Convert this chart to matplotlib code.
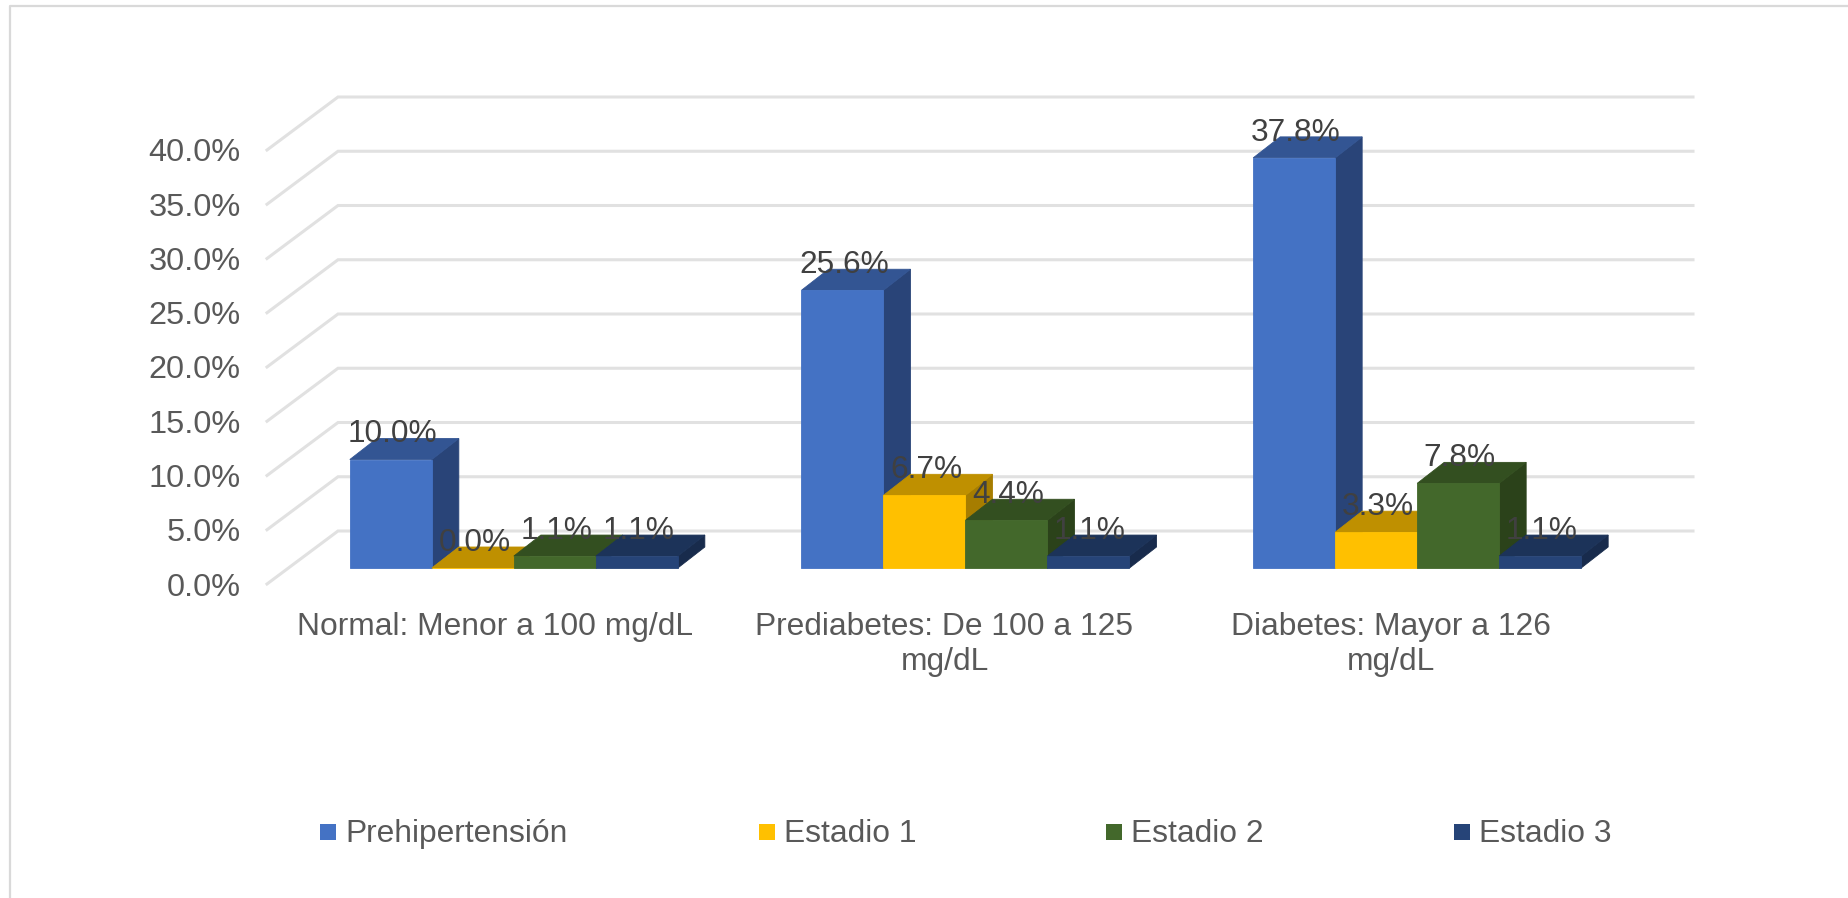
"""
3D-look clustered bars of hypertension stage by glucose level.
"""
import matplotlib
matplotlib.use('Agg')
import matplotlib.pyplot as plt
from matplotlib.patches import Polygon, Rectangle

plt.rcParams['font.family'] = ['Liberation Sans', 'DejaVu Sans']

categories = ['Normal: Menor a 100 mg/dL', 'Prediabetes: De 100 a 125\nmg/dL', 'Diabetes: Mayor a 126\nmg/dL']
series = ['Prehipertensión', 'Estadio 1', 'Estadio 2', 'Estadio 3']
prehipertension = [10.0, 25.6, 37.8]
estadio_1 = [0.0, 6.7, 3.3]
estadio_2 = [1.1, 4.4, 7.8]
estadio_3 = [1.1, 1.1, 1.1]
values = [prehipertension, estadio_1, estadio_2, estadio_3]
y_ticks = [0, 5, 10, 15, 20, 25, 30, 35, 40]

front_colors = ['#4472C4', '#FFC000', '#43682B', '#264478']
top_colors = ['#335593', '#BF9000', '#334F20', '#1C3359']
side_colors = ['#294478', '#A67D00', '#2B421A', '#182B4C']

W, H = 1849, 898
fig = plt.figure(figsize=(W / 100, H / 100), dpi=100)
# axes is the front plane of the chart box, in pixels of the reference
left, right, top, bottom = 267, 1622, 150, 584
ax = fig.add_axes([left / W, 1 - bottom / H, (right - left) / W, (bottom - top) / H])
ax.set_xlim(-0.5, 2.5)
ax.set_ylim(0, 40)
ax.patch.set_alpha(0)
for s in ax.spines.values():
    s.set_visible(False)

px_x = 3 / (right - left)
px_y = 40 / (bottom - top)
wall_dx, wall_dy = 71 * px_x, 53 * px_y
bar_dx, bar_dy = 21 * px_x, 16 * px_y   # front of the bars, from the front plane
depth_dx, depth_dy = 27 * px_x, 21 * px_y
bar_w = 82 * px_x
grid_color = '#E1E1E1'

for t in y_ticks:
    ax.plot([-0.5, -0.5 + wall_dx, 2.5 + wall_dx], [t, t + wall_dy, t + wall_dy],
            color=grid_color, lw=2.2, clip_on=False, zorder=1, solid_joinstyle='miter')

for g in range(len(categories)):
    for s in range(len(series)):
        x0 = g + bar_dx + (s - 2) * bar_w
        x1 = x0 + bar_w
        y0 = bar_dy
        y1 = bar_dy + values[s][g]
        z = 2 + g * 4 + s
        ax.add_patch(Polygon([(x1, y0), (x1 + depth_dx, y0 + depth_dy), (x1 + depth_dx, y1 + depth_dy), (x1, y1)],
                             fc=side_colors[s], ec=side_colors[s], lw=0.6, clip_on=False, zorder=z))
        ax.add_patch(Polygon([(x0, y1), (x1, y1), (x1 + depth_dx, y1 + depth_dy), (x0 + depth_dx, y1 + depth_dy)],
                             fc=top_colors[s], ec=top_colors[s], lw=0.6, clip_on=False, zorder=z))
        ax.bar(x0, values[s][g], bar_w, bottom=y0, align='edge', color=front_colors[s],
               edgecolor=front_colors[s], lw=0.6, clip_on=False, zorder=z)

for g in range(len(categories)):
    for s in range(len(series)):
        xc = g + bar_dx + (s - 1.5) * bar_w
        ax.annotate('%.1f%%' % values[s][g], (xc, bar_dy + values[s][g]), xytext=(1.5 * 0.72, 25 * 0.72),
                    textcoords='offset points', ha='center', va='center', fontsize=22.8,
                    color='#404040', zorder=40, annotation_clip=False)

ax.set_yticks(y_ticks)
ax.set_yticklabels(['%.1f%%' % t for t in y_ticks], fontsize=23.4, color='#595959')
# wrapped labels do not sit exactly on the group centre in the original
label_shift = [2 * px_x, 0, -5 * px_x]
ax.set_xticks([g + label_shift[g] for g in range(len(categories))])
ax.set_xticklabels(categories, fontsize=22.9, color='#595959', linespacing=1.23)
ax.tick_params(axis='y', length=0, pad=19)
ax.tick_params(axis='x', length=0, pad=20)

# legend, spaced like the original
legend_x = [320, 759, 1106, 1454]
for s, name in enumerate(series):
    lx = legend_x[s]
    fig.add_artist(Rectangle((lx / W, 1 - 840 / H), 16 / W, 16 / H, transform=fig.transFigure,
                             fc=front_colors[s], ec='none'))
    fig.text((lx + 25) / W, 1 - 834 / H, name, fontsize=22.9, color='#595959', ha='left', va='center')

# chart frame
fig.add_artist(plt.Line2D([10 / W, 10 / W, W / W], [0, 1 - 6 / H, 1 - 6 / H], transform=fig.transFigure,
                          color='#D9D9D9', lw=1.6))

fig.savefig('out.png', dpi=100, facecolor='white')
